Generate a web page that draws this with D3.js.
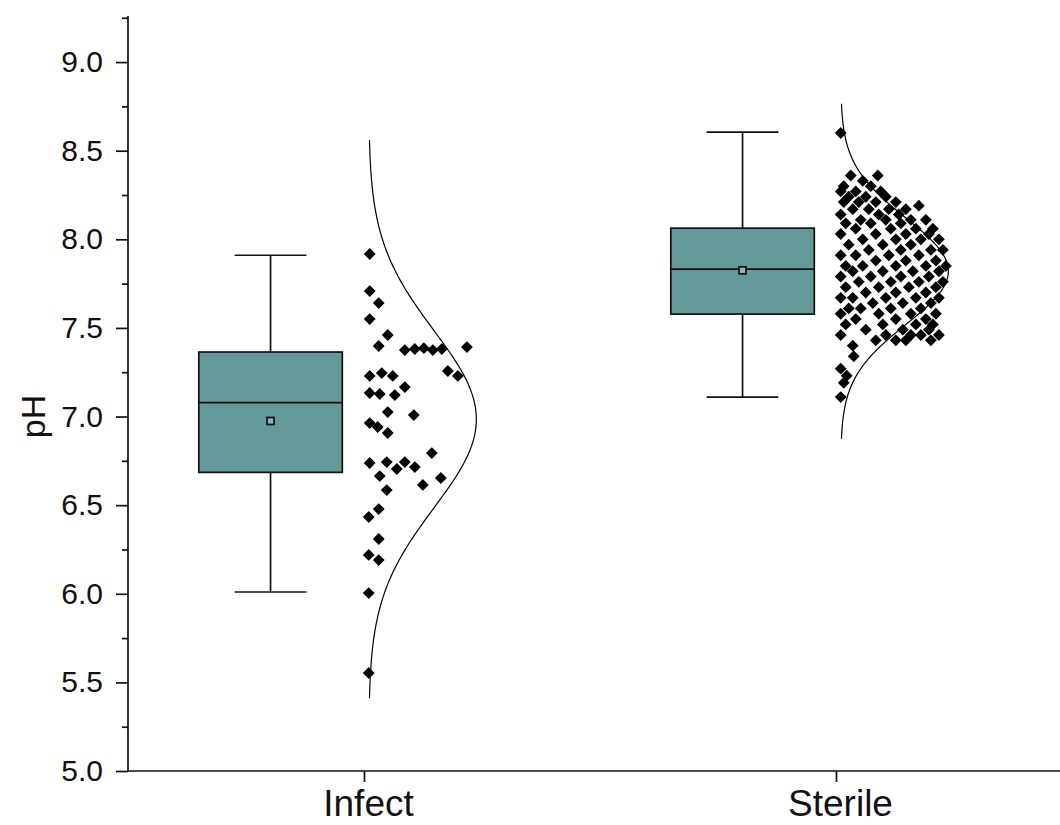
<!DOCTYPE html>
<html>
<head>
<meta charset="utf-8">
<script src="https://cdn.jsdelivr.net/npm/d3@7"></script>
<style>
  body { margin: 0; background: #fff; }
  text { font-family: Arial, "Liberation Sans", sans-serif; fill: #111; }
</style>
</head>
<body>
<script>
// categories and box statistics
var groups = ["Infect", "Sterile"];
var boxQ1 = [6.685, 7.578],
    boxMedian = [7.078, 7.832],
    boxQ3 = [7.364, 8.063],
    whiskLow = [6.01, 7.11],
    whiskHigh = [7.91, 8.605],
    boxMean = [6.975, 7.825];

// normal curve fit
var fitMean = [6.985, 7.82],
    fitSD = [0.5, 0.3];

var yMajor = [5.0, 5.5, 6.0, 6.5, 7.0, 7.5, 8.0, 8.5, 9.0];
var yMinor = [5.25, 5.75, 6.25, 6.75, 7.25, 7.75, 8.25, 8.75, 9.25];

// points: [pH, horizontal spread]
var infectPts = [
  [7.917, 1], [7.708, 1], [7.640, 10], [7.550, 1], [7.460, 19], [7.398, 10],
  [7.375, 36], [7.381, 46], [7.386, 55], [7.375, 64], [7.381, 73], [7.392, 98],
  [7.257, 79], [7.229, 89], [7.229, 1], [7.245, 13], [7.229, 24],
  [7.133, 1], [7.127, 11], [7.121, 26], [7.166, 36], [7.025, 19], [7.008, 45],
  [6.963, 1], [6.941, 9], [6.907, 19], [6.794, 63],
  [6.738, 1], [6.743, 18], [6.743, 36], [6.715, 46], [6.704, 28], [6.664, 11],
  [6.653, 72], [6.614, 54], [6.585, 18], [6.478, 10], [6.433, 0],
  [6.309, 10], [6.219, 0], [6.190, 10], [6.004, 0], [5.553, 0]
];

var sterileRows = [
  [8.60, [0]],
  [8.36, [10, 37]],
  [8.33, [22]],
  [8.30, [3, 30]],
  [8.27, [0, 15, 40]],
  [8.24, [8, 25, 45]],
  [8.21, [3, 18, 35, 55]],
  [8.19, [78]],
  [8.17, [12, 28, 48, 65]],
  [8.14, [0, 38, 58]],
  [8.11, [20, 45, 70, 85]],
  [8.09, [5, 30, 60]],
  [8.06, [15, 50, 75, 92]],
  [8.03, [0, 35, 65, 88]],
  [8.00, [22, 55, 80, 98]],
  [7.97, [8, 42, 70]],
  [7.94, [28, 60, 90, 102]],
  [7.91, [0, 15, 48, 78]],
  [7.88, [35, 65, 95]],
  [7.85, [5, 22, 55, 85, 105]],
  [7.82, [12, 42, 72, 98]],
  [7.79, [0, 30, 60, 88]],
  [7.76, [18, 50, 78, 102]],
  [7.73, [5, 38, 68, 95]],
  [7.70, [25, 55, 85]],
  [7.67, [0, 12, 45, 75, 98]],
  [7.64, [32, 62, 90]],
  [7.61, [8, 20, 50, 80]],
  [7.58, [0, 38, 70, 95]],
  [7.55, [15, 55, 85]],
  [7.52, [5, 42, 75, 92]],
  [7.49, [25, 62, 88]],
  [7.46, [0, 45, 70, 80, 98]],
  [7.43, [35, 55, 65, 90]],
  [7.40, [12]],
  [7.34, [13]],
  [7.27, [0]],
  [7.23, [6]],
  [7.19, [3]],
  [7.11, [0]]
];

var sterilePts = [];
sterileRows.forEach(function(r) {
  r[1].forEach(function(j) { sterilePts.push([r[0], j]); });
});
var points = [infectPts, sterilePts];

var width = 1060, height = 825;

var svg = d3.select("body").append("svg")
    .attr("width", width)
    .attr("height", height);

var x = d3.scaleLinear().domain([0.5, 2.5]).range([128, 1072]);
var y = d3.scaleLinear().domain([5, 9.26]).range([771, 16]);
var spread = d3.scaleLinear().domain([0, 106]).range([0, 0.225]);

var boxOff = -0.198, boxW = 0.304, ptOff = 0.01, curveW = 0.228;

// y axis
var yAxis = svg.append("g")
    .attr("transform", "translate(128,0)")
    .call(d3.axisLeft(y).tickValues(yMajor).tickSize(12).tickPadding(13)
      .tickFormat(d3.format(".1f")));
yAxis.select(".domain").attr("d", "M0," + y(9.26) + "V" + y(5));
yAxis.selectAll("text").style("font-size", "30px");

svg.append("g")
    .attr("transform", "translate(128,0)")
    .call(d3.axisLeft(y).tickValues(yMinor).tickSize(6).tickFormat(""))
    .select(".domain").remove();

// x axis
var xAxis = svg.append("g")
    .attr("transform", "translate(0,771)")
    .call(d3.axisBottom(x).tickValues([1, 2]).tickSize(11).tickPadding(8)
      .tickFormat(function(d) { return groups[d - 1]; }));
xAxis.select(".domain").attr("d", "M128,0H1060");
xAxis.selectAll("text").style("font-size", "37px").attr("dx", 4);

svg.selectAll(".domain, .tick line").attr("stroke", "#111").attr("stroke-width", 1.7);

svg.append("text")
    .attr("transform", "translate(45," + y(7.0) + ") rotate(-90)")
    .attr("text-anchor", "middle")
    .style("font-size", "34px")
    .text("pH");

// boxes
var box = svg.selectAll(".box")
    .data(groups)
  .enter().append("g")
    .attr("class", "box");

box.append("line")
    .attr("x1", function(d, i) { return x(i + 1 + boxOff); })
    .attr("x2", function(d, i) { return x(i + 1 + boxOff); })
    .attr("y1", function(d, i) { return y(whiskLow[i]); })
    .attr("y2", function(d, i) { return y(whiskHigh[i]); });

box.selectAll(".cap")
    .data(function(d, i) { return [[i, whiskLow[i]], [i, whiskHigh[i]]]; })
  .enter().append("line")
    .attr("x1", function(d) { return x(d[0] + 1 + boxOff - boxW / 4); })
    .attr("x2", function(d) { return x(d[0] + 1 + boxOff + boxW / 4); })
    .attr("y1", function(d) { return y(d[1]); })
    .attr("y2", function(d) { return y(d[1]); });

box.append("rect")
    .attr("x", function(d, i) { return x(i + 1 + boxOff - boxW / 2); })
    .attr("width", x(boxW) - x(0))
    .attr("y", function(d, i) { return y(boxQ3[i]); })
    .attr("height", function(d, i) { return y(boxQ1[i]) - y(boxQ3[i]); })
    .attr("fill", "#669999");

box.append("line")
    .attr("x1", function(d, i) { return x(i + 1 + boxOff - boxW / 2); })
    .attr("x2", function(d, i) { return x(i + 1 + boxOff + boxW / 2); })
    .attr("y1", function(d, i) { return y(boxMedian[i]); })
    .attr("y2", function(d, i) { return y(boxMedian[i]); });

box.append("rect")
    .attr("x", function(d, i) { return x(i + 1 + boxOff) - 3.5; })
    .attr("y", function(d, i) { return y(boxMean[i]) - 3.5; })
    .attr("width", 7).attr("height", 7)
    .attr("fill", "#8fb3b3");

box.selectAll("line, rect")
    .attr("stroke", "#111")
    .attr("stroke-width", 1.7);

// normal curves
var line = d3.line()
    .x(function(d) { return x(d[0]); })
    .y(function(d) { return y(d[1]); });

groups.forEach(function(g, i) {
  var m = fitMean[i], s = fitSD[i];
  var vals = d3.range(m - 3.15 * s, m + 3.15 * s + 1e-9, s / 40);
  var pts = vals.map(function(v) {
    var z = (v - m) / s;
    return [i + 1 + ptOff + curveW * Math.exp(-0.5 * z * z), v];
  });
  svg.append("path")
      .attr("d", line(pts))
      .attr("fill", "none")
      .attr("stroke", "#000")
      .attr("stroke-width", 1.2);
});

// data points
var diamond = d3.symbol().type(d3.symbolSquare).size(70);
groups.forEach(function(g, i) {
  svg.append("g").selectAll("path")
      .data(points[i])
    .enter().append("path")
      .attr("d", diamond)
      .attr("transform", function(d) {
        return "translate(" + x(i + 1 + ptOff + spread(d[1])) + "," + y(d[0]) + ") rotate(45)";
      })
      .attr("fill", "#000");
});
</script>
</body>
</html>
